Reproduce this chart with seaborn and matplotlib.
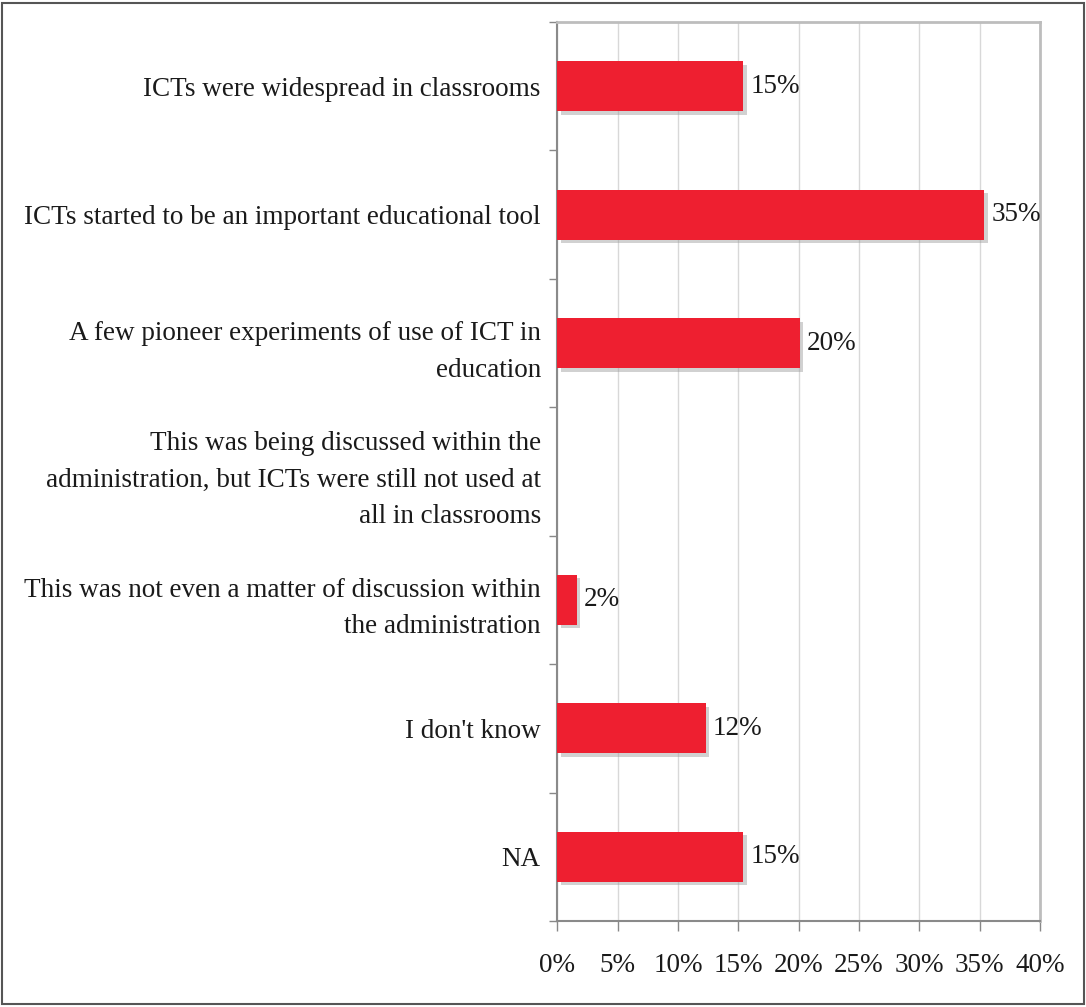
import matplotlib
matplotlib.use("Agg")
import matplotlib.pyplot as plt
import matplotlib.patheffects as pe
from matplotlib.patches import Rectangle
from matplotlib.ticker import FixedLocator, FuncFormatter
import seaborn as sns
import pandas as pd

categories = [
    "ICTs were widespread in classrooms",
    "ICTs started to be an important educational tool",
    "A few pioneer experiments of use of ICT in\neducation",
    "This was being discussed within the\nadministration, but ICTs were still not used at\nall in classrooms",
    "This was not even a matter of discussion within\nthe administration",
    "I don't know",
    "NA",
]
shares = [15.4, 35.4, 20.1, 0.0, 1.6, 12.3, 15.4]
x_ticks = [0, 5, 10, 15, 20, 25, 30, 35, 40]

df = pd.DataFrame({"answer": categories, "share": shares})

sns.set_theme(style="white")
plt.rcParams["font.family"] = ["Liberation Serif", "DejaVu Serif"]

FS = 19.5
TXT = "#1a1a1a"

fig = plt.figure(figsize=(10.86, 10.07), dpi=100)
ax = fig.add_axes([0.5133, 0.0854, 0.4443, 0.8927])

sns.barplot(data=df, x="share", y="answer", orient="h", color="#EE1F30",
            saturation=1, width=0.39, ax=ax, zorder=3)

for bar in ax.patches:
    bar.set_edgecolor("none")
    bar.set_path_effects([
        pe.SimplePatchShadow(offset=(2.5, -2.5), shadow_rgbFace="#9a9a9a", alpha=0.45),
        pe.Normal(),
    ])

ax.set_xlim(0, 40)
ax.set_ylim(len(categories) - 0.5, -0.5)
ax.xaxis.set_major_locator(FixedLocator(x_ticks))
ax.xaxis.set_major_formatter(FuncFormatter(lambda v, p: f"{v:.0f}%"))
ax.grid(axis="x", color="#d8d8d8", linewidth=1.0, zorder=0)
ax.set_axisbelow(True)

# category boundary ticks on the y axis
ax.yaxis.set_minor_locator(FixedLocator([i + 0.5 for i in range(-1, len(categories))]))
ax.tick_params(axis="y", which="major", length=0, pad=12, labelsize=FS, colors=TXT)
ax.tick_params(axis="y", which="minor", length=6, width=1, color="#888888", direction="out", left=True)
ax.tick_params(axis="x", which="major", length=7, width=1, color="#888888", direction="out",
               bottom=True, pad=16, labelsize=FS, labelcolor=TXT)
for lbl in ax.get_yticklabels():
    lbl.set_multialignment("right")
    lbl.set_linespacing(1.6)

ax.set_xlabel("")
ax.set_ylabel("")
for side in ["left", "bottom"]:
    ax.spines[side].set_color("#8a8a8a")
    ax.spines[side].set_linewidth(1.5)
for side in ["top", "right"]:
    ax.spines[side].set_color("#bdbdbd")
    ax.spines[side].set_linewidth(2.0)

for bar, val in zip(ax.patches, shares):
    if val <= 0:
        continue
    ax.text(bar.get_width() + 0.6, bar.get_y() + bar.get_height() / 2,
            f"{val:.0f}%", va="center", ha="left", fontsize=FS, color=TXT, zorder=4)

fig.patches.append(Rectangle((0.002, 0.003), 0.996, 0.994, transform=fig.transFigure,
                             fill=False, edgecolor="#555555", linewidth=1.5))

fig.savefig("out.png", dpi=100, facecolor="white")
